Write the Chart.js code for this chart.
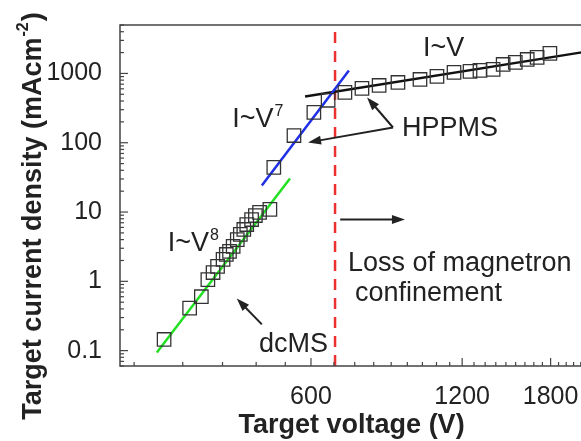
<!DOCTYPE html>
<html>
<head>
<meta charset="utf-8">
<script src="https://cdn.jsdelivr.net/npm/chart.js@4.4.0/dist/chart.umd.min.js"></script>
<style>
  html, body { margin: 0; padding: 0; background: #fff; overflow: hidden; }
  #wrap { width: 581px; height: 441px; overflow: hidden; }
  #grafico { display: block; }
</style>
</head>
<body>
<div id="wrap"><canvas id="grafico" width="594" height="441"></canvas></div>
<script>
// values (V, mA/cm2)
const dcmsVoltage = [306, 344, 363, 374, 383, 391, 401, 407, 413, 420, 428, 434, 441, 447, 457, 465, 474, 497];
const dcmsCurrent = [0.145, 0.41, 0.6, 1.06, 1.34, 1.64, 2.07, 2.44, 2.7, 3.2, 4.0, 4.75, 5.6, 6.6, 7.8, 8.9, 9.9, 10.9];

const hppmsVoltage = [506, 555, 608, 649, 701, 758, 820, 894, 989, 1069, 1156, 1244, 1302, 1383, 1448, 1531, 1617, 1692, 1794];
const hppmsCurrent = [44, 127, 274, 410, 532, 608, 671, 741, 819, 905, 1034, 1069, 1105, 1142, 1348, 1442, 1592, 1702, 1944];

// fitted power laws, end points
const fitV8Voltage = [296, 545];
const fitV8Current = [0.094, 30.5];
const fitV7Voltage = [479, 714];
const fitV7Current = [24.2, 1100];
const fitVVoltage = [584, 2090];
const fitVCurrent = [465, 2030];

// loss of magnetron confinement
const limitVoltage = [670, 670];
const limitCurrent = [0.06, 5000];

const xTicks = [600, 1200, 1800];
const yTicks = [0.1, 1, 10, 100, 1000];

const FONT = '"Liberation Sans", Arial, sans-serif';
const INK = "#222";

const toPoints = (xs, ys) => xs.map((x, i) => ({ x, y: ys[i] }));

const squares = {
  pointStyle: "rect",
  pointRadius: 9.5,
  borderColor: "#333",
  borderWidth: 1.3,
  backgroundColor: "transparent",
  showLine: false
};
const fitLine = { showLine: true, pointRadius: 0, borderWidth: 2.5, fill: false };

// text and arrows, anchored in data coordinates
const labels = [
  { text: "I~V", x: 1003, y: 1758 },
  { text: "I~V", sup: "7", x: 418, y: 166 },
  { text: "I~V", sup: "8", x: 311, y: 2.7 },
  { text: "HPPMS", x: 911, y: 127 },
  { text: "dcMS", x: 473, y: 0.097 },
  { text: "Loss of magnetron", x: 711, y: 1.39 },
  { text: "confinement", x: 734, y: 0.513 }
];
const arrows = [
  { from: [874, 166], to: [776, 451] },
  { from: [874, 166], to: [592, 101] },
  { from: [479, 0.239], to: [427, 0.566] },
  { from: [686, 7.8], to: [923, 7.8] }
];

function drawArrow(ctx, x0, y0, x1, y1) {
  const ang = Math.atan2(y1 - y0, x1 - x0);
  const len = 13, half = 4.5;
  ctx.beginPath();
  ctx.moveTo(x0, y0);
  ctx.lineTo(x1 - Math.cos(ang) * len * 0.8, y1 - Math.sin(ang) * len * 0.8);
  ctx.stroke();
  ctx.beginPath();
  ctx.moveTo(x1, y1);
  ctx.lineTo(x1 - Math.cos(ang) * len - Math.sin(ang) * half, y1 - Math.sin(ang) * len + Math.cos(ang) * half);
  ctx.lineTo(x1 - Math.cos(ang) * len + Math.sin(ang) * half, y1 - Math.sin(ang) * len - Math.cos(ang) * half);
  ctx.closePath();
  ctx.fill();
}

const decorations = {
  id: "decorations",
  afterDraw(chart) {
    const { ctx, chartArea: a, scales: { x, y } } = chart;
    ctx.save();

    // frame (right side falls outside the crop)
    ctx.strokeStyle = "#444";
    ctx.lineWidth = 1.5;
    ctx.beginPath();
    ctx.moveTo(a.right + 5, a.top);
    ctx.lineTo(a.left, a.top);
    ctx.lineTo(a.left, a.bottom);
    ctx.lineTo(a.right + 5, a.bottom);
    ctx.stroke();

    // inward ticks, y axis
    ctx.lineWidth = 1.2;
    for (let e = -2; e <= 3; e++) {
      for (let m = 1; m <= 9; m++) {
        const v = m * Math.pow(10, e);
        if (v < y.min || v > y.max) continue;
        const py = y.getPixelForValue(v);
        const len = m === 1 ? 8 : 4;
        ctx.beginPath();
        ctx.moveTo(a.left, py);
        ctx.lineTo(a.left + len, py);
        ctx.stroke();
      }
    }
    // inward ticks, x axis (every 600/9 V)
    for (let k = 1; k <= 40; k++) {
      const v = k * 600 / 9;
      if (v < x.min || v > x.max) continue;
      const px = x.getPixelForValue(v);
      const len = k % 9 === 0 ? 8 : 4;
      ctx.beginPath();
      ctx.moveTo(px, a.bottom);
      ctx.lineTo(px, a.bottom - len);
      ctx.stroke();
    }

    // annotations
    ctx.fillStyle = INK;
    ctx.textBaseline = "alphabetic";
    ctx.textAlign = "left";
    labels.forEach(l => {
      const px = x.getPixelForValue(l.x);
      const py = y.getPixelForValue(l.y);
      ctx.font = "27px " + FONT;
      ctx.fillText(l.text, px, py);
      if (l.sup) {
        const w = ctx.measureText(l.text).width;
        ctx.font = "16px " + FONT;
        ctx.fillText(l.sup, px + w + 1, py - 11);
      }
    });

    ctx.strokeStyle = INK;
    ctx.lineWidth = 2;
    arrows.forEach(r => {
      drawArrow(ctx,
        x.getPixelForValue(r.from[0]), y.getPixelForValue(r.from[1]),
        x.getPixelForValue(r.to[0]), y.getPixelForValue(r.to[1]));
    });

    // axis titles
    ctx.font = "bold 27px " + FONT;
    ctx.textAlign = "center";
    ctx.fillText("Target voltage (V)", (a.left + a.right) / 2, 433);

    ctx.translate(41, 216);
    ctx.rotate(-Math.PI / 2);
    const main = "Target current density (mAcm";
    ctx.font = "bold 27px " + FONT;
    const w1 = ctx.measureText(main).width;
    const w3 = ctx.measureText(")").width;
    ctx.font = "bold 16px " + FONT;
    const w2 = ctx.measureText("-2").width;
    let cx = -(w1 + w2 + w3 + 2) / 2;
    ctx.textAlign = "left";
    ctx.font = "bold 27px " + FONT;
    ctx.fillText(main, cx, 0);
    cx += w1 + 1;
    ctx.font = "bold 16px " + FONT;
    ctx.fillText("-2", cx, -13);
    cx += w2 + 1;
    ctx.font = "bold 27px " + FONT;
    ctx.fillText(")", cx, 0);

    ctx.restore();
  }
};

const ctx = document.getElementById("grafico").getContext("2d");

new Chart(ctx, {
  type: "scatter",
  data: {
    datasets: [
      { ...squares, data: toPoints(dcmsVoltage, dcmsCurrent) },
      { ...squares, data: toPoints(hppmsVoltage, hppmsCurrent) },
      { ...fitLine, data: toPoints(fitV8Voltage, fitV8Current), borderColor: "#22e022" },
      { ...fitLine, data: toPoints(fitV7Voltage, fitV7Current), borderColor: "#1f2fe6" },
      { ...fitLine, data: toPoints(fitVVoltage, fitVCurrent), borderColor: "#111" },
      { ...fitLine, data: toPoints(limitVoltage, limitCurrent), borderColor: "#ec3030", borderDash: [11, 8] }
    ]
  },
  options: {
    responsive: false,
    animation: false,
    layout: { padding: { top: 25, right: 3, left: 0, bottom: 0 } },
    plugins: {
      legend: { display: false },
      tooltip: { enabled: false }
    },
    scales: {
      x: {
        type: "logarithmic",
        bounds: "data",
        min: 250,
        max: 2090,
        grid: { display: false },
        border: { display: false },
        afterBuildTicks: s => { s.ticks = xTicks.map(v => ({ value: v })); },
        afterFit: s => {
          s.height = 75;
          s.paddingLeft = 0;
          s.paddingRight = 0;
        },
        ticks: {
          font: { family: FONT, size: 25 },
          color: INK,
          padding: 8,
          maxRotation: 0,
          autoSkip: false,
          callback: v => String(v)
        }
      },
      y: {
        type: "logarithmic",
        bounds: "data",
        min: 0.06,
        max: 5000,
        grid: { display: false },
        border: { display: false },
        afterBuildTicks: s => { s.ticks = yTicks.map(v => ({ value: v })); },
        afterFit: s => {
          s.width = 120;
          s.paddingTop = 0;
          s.paddingBottom = 0;
        },
        ticks: {
          font: { family: FONT, size: 25 },
          color: INK,
          padding: 10,
          autoSkip: false,
          callback: v => String(v)
        }
      }
    }
  },
  plugins: [decorations]
});
</script>
</body>
</html>
